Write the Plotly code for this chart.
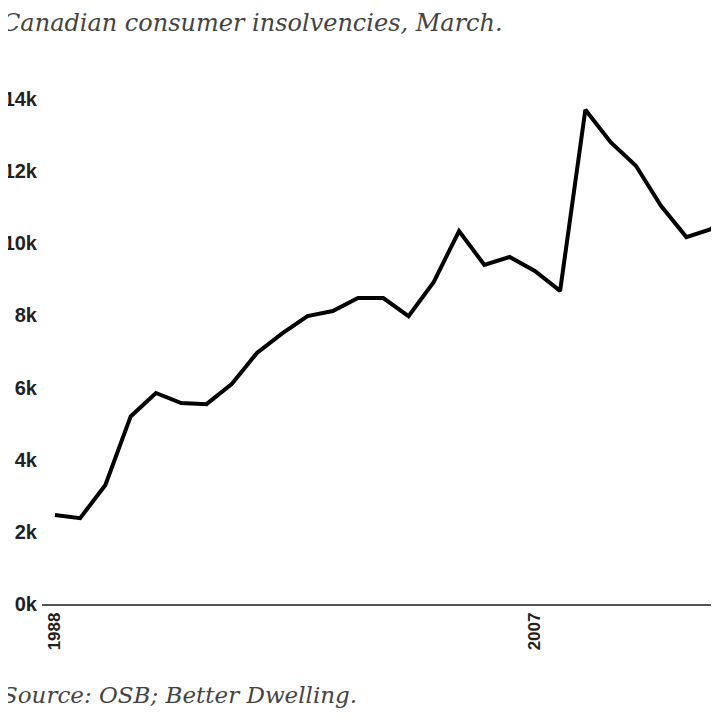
import plotly.graph_objects as go

# March consumer insolvencies, thousands
years = list(range(1988, 2016))
insolvencies_k = [2.47, 2.38, 3.3, 5.2, 5.85, 5.57, 5.54, 6.1, 6.96, 7.5,
                  7.98, 8.12, 8.48, 8.48, 7.98, 8.93, 10.34, 9.4, 9.62, 9.23,
                  8.68, 13.7, 12.8, 12.15, 11.03, 10.17, 10.4, 11.6]
tick_years = [1988, 2007]
y_ticks = [0, 2, 4, 6, 8, 10, 12, 14]
y_labels = [f"{v}k" for v in y_ticks]

fig = go.Figure()
fig.add_trace(go.Scatter(x=years, y=insolvencies_k, mode="lines",
                         line=dict(color="black", width=4)))

# page has ~8px body offset, so figure is a bit smaller
fig.update_layout(
    width=711, height=710,
    plot_bgcolor="white", paper_bgcolor="white",
    margin=dict(l=34, r=0, t=52, b=114),
    showlegend=False,
    font=dict(family="Liberation Sans", color="#222"),
)
fig.update_xaxes(range=[1987.49, 2014.29], tickvals=tick_years, tickangle=-90,
                 showgrid=False, zeroline=False, showline=True, automargin=False,
                 linecolor="#555", linewidth=1.5, ticks="",
                 tickfont=dict(size=17, family="Liberation Sans", color="#222",
                               weight="bold"))
fig.update_yaxes(range=[0, 15.08], tickvals=y_ticks, ticktext=y_labels,
                 showgrid=False, zeroline=False, automargin=False,
                 ticklabelstandoff=4,
                 tickfont=dict(size=20, family="Liberation Sans", color="#222",
                               weight="bold"))

fig.add_annotation(text="Canadian consumer insolvencies, March.", xref="paper", yref="paper",
                   x=-0.062, y=1.068, xanchor="left", yanchor="middle", showarrow=False,
                   font=dict(size=24, family="DejaVu Serif", color="#444", style="italic"))
fig.add_annotation(text="Source: OSB; Better Dwelling.", xref="paper", yref="paper",
                   x=-0.062, y=-0.167, xanchor="left", yanchor="middle", showarrow=False,
                   font=dict(size=23, family="DejaVu Serif", color="#444", style="italic"))

fig.write_html("out.html")
